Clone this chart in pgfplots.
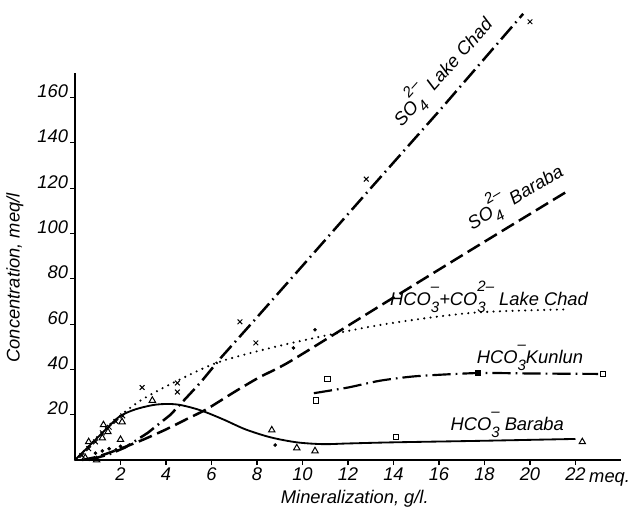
\documentclass[border=0pt]{standalone}
\usepackage{fontspec}
\setmainfont{Liberation Sans}
\usepackage{pgfplots}
\pgfplotsset{compat=1.18}
% ion charge and index, stacked one above the other
\newcommand\ion[2]{\rlap{\raisebox{-0.75ex}{\fontsize{9}{9}\selectfont #1}}\raisebox{1.45ex}{\fontsize{9}{9}\selectfont #2}}
\begin{document}
\begin{tikzpicture}[font=\fontsize{11}{13}\selectfont\itshape]
\begin{axis}[
    x=13.65pt, y=1.359pt,
    xmin=0, xmax=24, ymin=0, ymax=171,
    axis lines=left,
    axis line style={-, line width=0.8pt},
    clip=false,
    xtick={2,4,...,22},
    ytick={20,40,...,160},
    tick align=outside,
    major tick length=3pt,
    tick style={black, line width=0.7pt},
    /pgf/number format/assume math mode=true,
    yticklabel style={anchor=base east, inner sep=1pt},
    xticklabel style={yshift=2pt},
    xlabel={Mineralization, g/l.},
    ylabel={Concentration, meq/l},
    xlabel style={at={(axis cs:12.3,-17)}, anchor=center},
    ylabel style={at={(axis cs:-2.64,80.4)}, anchor=center},
]
% SO4 Lake Chad
\addplot[line width=1.5pt, dash pattern=on 10pt off 3pt on 1pt off 3pt]
  coordinates {(0.6,0) (1.5,2.5) (2.2,5.5) (3.2,12) (4.2,20) (5.5,34) (6.4,45)
               (8,63) (10.9,96) (13,120) (16,154) (19.7,197)};
% SO4 Baraba
\addplot[line width=1.5pt, dash pattern=on 8.5pt off 3.5pt, smooth, tension=0.4]
  coordinates {(0.3,0) (1,1.5) (2,5) (3,9) (4,13.5) (5,18.5) (5.8,22.5) (7,30)
               (8.1,36.5) (9.45,43.5) (13.4,68) (17.4,92.7) (21.7,119)};
% HCO3+CO3 Lake Chad
\addplot[line width=1.4pt, line cap=round, dash pattern=on 0pt off 3.8pt, smooth, tension=0.5]
  coordinates {(0,0) (0.5,5) (1,10.5) (1.5,15.5) (2.1,20.5) (3,27) (4.5,35)
               (6.4,43.5) (9.45,51.5) (13.4,59.6) (17.5,65) (21.7,66.5)};
% HCO3 Baraba
\addplot[line width=1.1pt, smooth, tension=0.5]
  coordinates {(0,0) (0.5,5) (1,10) (1.5,15) (2,19.5) (2.7,22.5) (3.6,24.5)
               (4.5,24.5) (5.5,22) (6.5,18) (7.5,13.5) (8.6,10) (9.75,7.8)
               (10.9,7) (12,7.3) (14,7.8) (18,8.5) (22,9.3)};
% HCO3 Kunlun
\addplot[line width=1.3pt, dash pattern=on 11pt off 3pt on 1pt off 3pt, smooth, tension=0.4]
  coordinates {(10.5,29.5) (12,32) (13.4,35) (15,37) (17.7,38.4) (20,38.2) (23,38)};
% markers: Lake Chad
\addplot[only marks, mark=x, mark size=2pt, line width=0.6pt]
  coordinates {(0.3,2) (0.6,5) (0.9,8) (1.2,12) (1.5,14.5) (1.8,17) (2.1,19.5)
               (2.95,32) (4.5,34) (4.5,30) (7.25,61) (7.95,51.7) (12.8,124) (20.0,193.5)};
\addplot[only marks, mark=*, mark size=0.9pt]
  coordinates {(0.9,3) (1.2,4) (1.5,5) (1.8,4.5) (2.0,6) (8.8,6.6) (9.6,49.5) (10.55,57.5)};
% markers: Baraba
\addplot[only marks, mark=triangle, mark size=2.2pt, line width=0.6pt]
  coordinates {(0.45,1) (0.6,8) (0.95,0) (1.2,9.7) (1.25,15.5) (1.45,12.4) (2.0,9)
               (2.07,16.8) (3.4,26.3) (8.65,13.2) (9.75,5.3) (10.55,4) (22.3,8)};
% markers: Kunlun
\addplot[only marks, mark=square, mark size=1.6pt, line width=0.6pt]
  coordinates {(10.6,26.2) (11.1,35.8) (14.1,10.2) (23.2,38)};
\addplot[only marks, mark=square*, mark size=1.6pt]
  coordinates {(17.7,38.4)};
% curve labels
\node[rotate=48] at (axis cs:16.1,172) {SO\ion{4}{2--} Lake Chad};
\node[rotate=31] at (axis cs:19.3,117) {SO\ion{4}{2--} Baraba};
\node at (axis cs:18.2,72) {HCO\ion{3}{--}+CO\ion{3}{2--} Lake Chad};
\node at (axis cs:20,45) {HCO\ion{3}{--}Kunlun};
\node at (axis cs:19,15.5) {HCO\ion{3}{--} Baraba};
\node at (axis cs:23.5,-8.5) {meq.};
\coordinate (bbll) at (axis cs:-3.297,-21.19);
\coordinate (bbur) at (axis cs:24.88,203.1);
\end{axis}
\pgfresetboundingbox
\path (bbll) rectangle (bbur);
\end{tikzpicture}
\end{document}
